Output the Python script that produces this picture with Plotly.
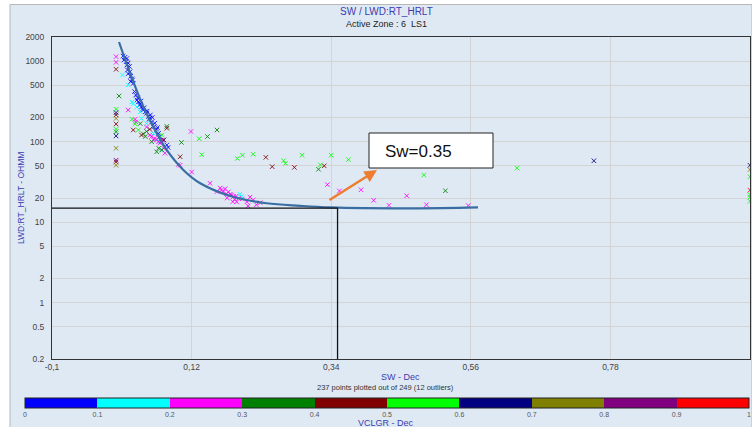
import plotly.graph_objects as go

# ---------------- data ----------------
# Crossplot samples grouped by clay-volume class (VCLGR, decimal)
sw_vcl05 = [0.012, 0.015, 0.018, 0.0135, 0.017, 0.020, 0.018, 0.022, 0.019, 0.023,
            0.020, 0.024, 0.026, 0.027, 0.024, 0.028, 0.034, 0.036, 0.039, 0.038,
            0.041, 0.043, 0.044, 0.047, 0.049, 0.052, 0.054, 0.053, 0.057, 0.060,
            0.065, 0.068, 0.070, 0.076, 0.081, 0.083, 0.030, 0.032, 0.035, 0.040,
            0.045, 0.050, 0.055, 0.058, 0.062, 0.066]
rt_vcl05 = [1160, 1120, 1080, 1035, 990, 950, 897, 860, 778, 740,
            700, 650, 605, 584, 560, 530, 330, 312, 295, 286,
            270, 256, 248, 235, 225, 206, 197, 190, 176, 152,
            143, 127, 116, 105, 91, 85, 420, 380, 350, 320,
            265, 240, 215, 200, 170, 150]

sw_vcl15 = [0.011, 0.020, 0.026, 0.028, 0.034, 0.039, 0.041, 0.049, 0.060, 0.065,
            0.070, 0.073, 0.196, 0.199]
rt_vcl15 = [674, 507, 312, 295, 270, 235, 195, 168, 127, 105,
            100, 79, 22.3, 20.9]

sw_vcl25 = [0.001, 0.001, 0.020, 0.031, 0.032, 0.049, 0.054, 0.057, 0.060, 0.062,
            0.065, 0.068, 0.070, 0.073, 0.076, 0.078, 0.119, 0.099, 0.102, 0.120,
            0.149, 0.165, 0.167, 0.170, 0.173, 0.175, 0.178, 0.181, 0.183, 0.186,
            0.188, 0.191, 0.194, 0.207, 0.209, 0.217, 0.228, 0.160, 0.176, 0.190,
            0.200, 0.185, 0.212, 0.222, 0.334, 0.353, 0.387, 0.407, 0.431, 0.459,
            0.490, 0.556]
rt_vcl25 = [1140, 970, 248, 190, 176, 152, 121, 116, 105, 110,
            107, 100, 96, 105, 83, 72, 134, 52, 51, 42,
            30.5, 26.6, 25.1, 23.8, 26, 22.5, 23.8, 22.3, 21.8, 20.9,
            19.3, 17.9, 19.8, 17.9, 15.9, 18.9, 17.5, 24, 20, 21,
            19.5, 18, 20.5, 16.5, 29.3, 24.5, 25.3, 18.7, 16.2, 21.3,
            16.5, 16.1]

sw_vcl35 = [0.0056, 0.039, 0.044, 0.047, 0.049, 0.057, 0.065, 0.068, 0.073, 0.081,
            0.104, 0.145, 0.160, 0.320, 0.520, 0.001]
rt_vcl35 = [370, 168, 125, 116, 134, 100, 75, 83, 79, 155,
            98, 116, 140, 45.5, 24.6, 133]

sw_vcl45 = [0.001, 0.001, 0.001, 0.001, 0.028, 0.041, 0.054, 0.081, 0.076, 0.102,
            0.237, 0.247, 0.282, 0.329]
rt_vcl45 = [794, 215, 166, 56, 140, 121, 143, 147, 105, 65,
            64, 49, 48, 50.2]

sw_vcl55 = [0.001, 0.001, 0.026, 0.031, 0.036, 0.073, 0.136, 0.132, 0.192, 0.200,
            0.217, 0.265, 0.268, 0.294, 0.323, 0.340, 0.367, 0.486, 0.633, 1.0,
            1.0, 1.0, 1.0]
rt_vcl55 = [253, 143, 190, 166, 140, 121, 69, 109, 62, 68,
            70, 58, 54, 68, 51.5, 68, 60, 38.6, 47, 36.7,
            22, 20.6, 18.2]

sw_vcl65 = [0.001, 0.001, 0.754, 1.0]
rt_vcl65 = [230, 118, 58, 51]

sw_vcl75 = [0.001, 0.001, 0.001, 1.0]
rt_vcl75 = [195, 83, 51, 45]

sw_vcl85 = [0.001]
rt_vcl85 = [59]

sw_vcl95 = [1.0]
rt_vcl95 = [25]

class_values = [0.05, 0.15, 0.25, 0.35, 0.45, 0.55, 0.65, 0.75, 0.85, 0.95]
class_colors = ["#0000ff", "#00ffff", "#ff00ff", "#008000", "#800000",
                "#00ff00", "#000080", "#808000", "#800080", "#ff0000"]

# Fitted resistivity trend (SW vs RT)
curve_sw = [0.0056, 0.023, 0.0439, 0.065, 0.0807, 0.107, 0.1335, 0.185, 0.2383,
            0.291, 0.338, 0.469, 0.5714]
curve_rt = [1734, 714, 272, 128, 79, 44.6, 30.5, 20.7, 17.2, 16.0, 15.3, 14.9, 15.3]

# Cutoff
sw_cut = 0.35
rt_cut = 15

x_ticks = [-0.1, 0.12, 0.34, 0.56, 0.78, 1.0]
x_ticktext = ["-0,1", "0,12", "0,34", "0,56", "0,78", "1"]
y_ticks = [0.2, 0.5, 1, 2, 5, 10, 20, 50, 100, 200, 500, 1000, 2000]
cb_ticks = [0, 0.1, 0.2, 0.3, 0.4, 0.5, 0.6, 0.7, 0.8, 0.9, 1]

# ---------------- assemble ----------------
groups = [(sw_vcl05, rt_vcl05), (sw_vcl15, rt_vcl15), (sw_vcl25, rt_vcl25),
          (sw_vcl35, rt_vcl35), (sw_vcl45, rt_vcl45), (sw_vcl55, rt_vcl55),
          (sw_vcl65, rt_vcl65), (sw_vcl75, rt_vcl75), (sw_vcl85, rt_vcl85),
          (sw_vcl95, rt_vcl95)]
all_sw, all_rt, all_vcl = [], [], []
for (s, r), v in zip(groups, class_values):
    all_sw += s
    all_rt += r
    all_vcl += [v] * len(s)

# stepped colour scale, one colour per 0.1 class
colorscale = []
for i, c in enumerate(class_colors):
    colorscale.append([i / 10, c])
    colorscale.append([(i + 1) / 10, c])

# pixel helpers for the 752x427 canvas (plot area 52..750 x 37..359)
L, R, T, B = 52, 750, 37, 359
def px(x):
    return (x - L) / (R - L)
def py(y):
    return (B - y) / (B - T)

BLUE_TXT = "#3c3cb0"
FONT = "Liberation Sans"

fig = go.Figure()

fig.add_trace(go.Scatter(
    x=all_sw, y=all_rt, mode="markers",
    marker=dict(symbol="x-thin-open", size=4.5, line=dict(width=1),
                color=all_vcl, colorscale=colorscale, cmin=0, cmax=1,
                opacity=0.85, showscale=True,
                colorbar=dict(orientation="h", x=px(25), xanchor="left",
                              y=py(397.5), yanchor="top",
                              len=724, lenmode="pixels",
                              thickness=10, thicknessmode="pixels",
                              xpad=0, ypad=0,
                              outlinecolor="#222", outlinewidth=1,
                              tickvals=cb_ticks, ticktext=[f"{t:g}" for t in cb_ticks],
                              ticks="", tickfont=dict(size=7, color="#555", family=FONT))),
    showlegend=False, hoverinfo="x+y"))

fig.add_trace(go.Scatter(
    x=curve_sw, y=curve_rt, mode="lines",
    line=dict(color="#3a6ea3", width=2.2, shape="spline", smoothing=1.0),
    showlegend=False))

fig.add_trace(go.Scatter(
    x=[x_ticks[0], sw_cut, sw_cut], y=[rt_cut, rt_cut, y_ticks[0]], mode="lines",
    line=dict(color="#111", width=1.3), showlegend=False))

# background panel
fig.add_shape(type="rect", xref="paper", yref="paper",
              x0=px(10), x1=px(752), y0=py(428), y1=py(4.5),
              fillcolor="#dfe9f4", line=dict(color="#b8b8b8", width=1), layer="below")
# label box
fig.add_shape(type="rect", xref="paper", yref="paper",
              x0=px(369), x1=px(493), y0=py(168), y1=py(133),
              fillcolor="white", line=dict(color="#222", width=1), layer="above")

annotations = [
    dict(text="SW / LWD:RT_HRLT", x=px(386), y=py(12), font=dict(size=10, color=BLUE_TXT)),
    dict(text="Active Zone : 6  LS1", x=px(386), y=py(24), font=dict(size=9, color="#222")),
    dict(text="SW - Dec", x=px(400), y=py(377), font=dict(size=9, color=BLUE_TXT)),
    dict(text="237 points plotted out of 249 (12 outliers)", x=px(385), y=py(388),
         font=dict(size=7.5, color="#333")),
    dict(text="VCLGR - Dec", x=px(386), y=py(423), font=dict(size=9, color=BLUE_TXT)),
    dict(text="LWD:RT_HRLT - OHMM", x=px(21), y=py(198), textangle=-90,
         font=dict(size=8.5, color=BLUE_TXT)),
]
for a in annotations:
    a.update(xref="paper", yref="paper", showarrow=False, xanchor="center", yanchor="middle")
    a["font"]["family"] = FONT

annotations.append(dict(
    text=f"Sw={sw_cut:.2f}", xref="paper", yref="paper", x=px(383), y=py(151),
    xanchor="left", yanchor="middle", showarrow=False,
    font=dict(size=17, color="#111", family=FONT)))
annotations.append(dict(
    text="", xref="paper", yref="paper", x=px(377), y=py(170),
    ax=-49, ay=31, axref="pixel", ayref="pixel", showarrow=True,
    arrowhead=2, arrowsize=1, arrowwidth=2.5, arrowcolor="#ed7d31"))

fig.update_layout(
    width=752, height=427,
    margin=dict(l=L, r=752 - R, t=T, b=427 - B, pad=0),
    paper_bgcolor="white", plot_bgcolor="white",
    font=dict(family=FONT, size=9, color="#333"),
    annotations=annotations,
    xaxis=dict(range=[-0.1, 1.0], tickvals=x_ticks, ticktext=x_ticktext,
               showgrid=True, gridcolor="#d4d4d4", gridwidth=1, zeroline=False,
               showline=True, linecolor="#333", linewidth=1, mirror=True,
               ticks="", tickfont=dict(size=8.5, color="#444")),
    yaxis=dict(type="log", range=[-0.69897, 3.30103], tickvals=y_ticks,
               ticktext=[f"{t:g}" for t in y_ticks],
               showgrid=True, gridcolor="#d4d4d4", gridwidth=1, zeroline=False,
               showline=True, linecolor="#333", linewidth=1, mirror=True,
               ticks="", ticklabelstandoff=5, tickfont=dict(size=8.5, color="#444")),
)

fig.write_html("out.html")
